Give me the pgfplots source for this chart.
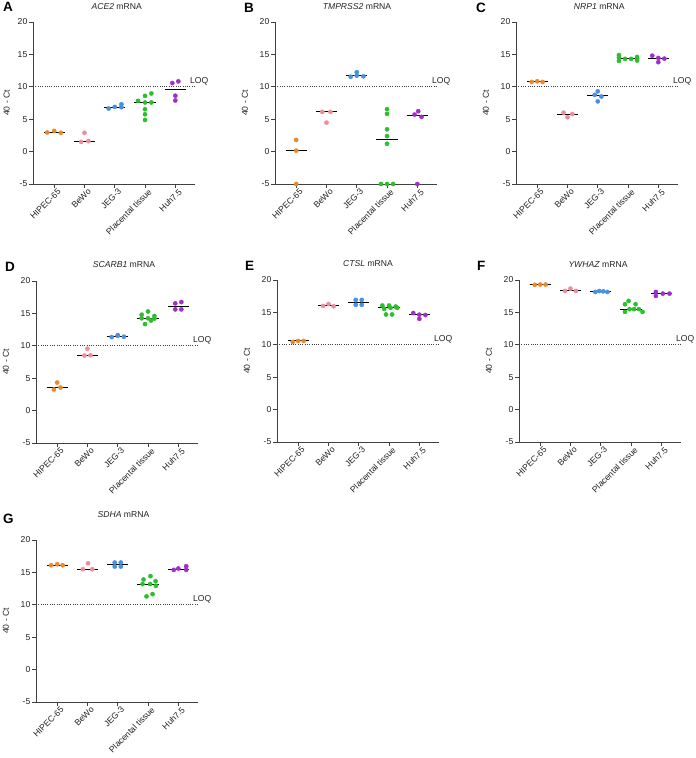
\documentclass[border=0pt]{standalone}
\usepackage{pgfplots}
\pgfplotsset{compat=1.18}
\usepackage{fontspec}
\setmainfont{Liberation Sans}

\definecolor{cHip}{HTML}{E8892B}
\definecolor{cBew}{HTML}{EC8E99}
\definecolor{cJeg}{HTML}{4A8FE0}
\definecolor{cPla}{HTML}{2DBE2D}
\definecolor{cHuh}{HTML}{9E30C9}
\definecolor{axgray}{HTML}{404040}
\definecolor{txt}{HTML}{222222}

\newcommand{\smallfont}{\fontsize{8.6}{10}\selectfont}
\newcommand{\letterfont}{\fontsize{13.5}{15}\selectfont\bfseries}

\pgfplotsset{
  qpcr/.style={
    scale only axis, width=162pt, height=162pt, anchor=south west,
    xmin=-0.7, xmax=4.65, ymin=-5, ymax=20,
    axis x line*=bottom, axis y line*=left,
    axis line style={axgray, line width=0.8pt},
    tick style={axgray, line width=0.8pt},
    tick align=outside, major tick length=4pt,
    xtick={0,1,2,3,4},
    xticklabels={HIPEC-65,BeWo,JEG-3,Placental tissue,Huh7.5},
    ytick={-5,0,5,10,15,20},
    yticklabels={-5,0,5,10,15,20},
    tick label style={font=\smallfont, text=txt},
    xticklabel style={rotate=45, anchor=north east, inner sep=0.5pt, xshift=2.5pt, yshift=-1.5pt},
    yticklabel style={inner sep=1.5pt},
    ylabel={40 - Ct},
    label style={font=\smallfont, text=txt},
    ylabel style={at={(axis description cs:-0.185,0.5)}, anchor=center},
    clip=false,
  },
  dots/.style={only marks, mark=*, mark size=2.1pt, color=#1},
  median/.style={black, line width=1pt},
  loq/.style={axgray, line width=0.7pt, dash pattern=on 0.7pt off 1.6pt},
}

% limit of quantification: dotted line at 10 with its label
\newcommand{\loq}{%
  \addplot[loq] coordinates {(-0.7,10) (4.65,10)};
  \node[font=\smallfont, text=txt, anchor=base west, inner sep=0pt, xshift=-5pt, yshift=3.5pt] at (axis cs:4.65,10) {LOQ};
}
% median bar: x from, x to, value
\newcommand{\med}[3]{\addplot[median] coordinates {(#1,#3) (#2,#3)};}

\begin{document}
\begin{tikzpicture}
\useasboundingbox (0pt,0pt) rectangle (696pt,758pt);

% ---------------- A: ACE2 ----------------
\begin{axis}[qpcr, at={(33pt,574pt)}, ylabel style={at={(axis description cs:-0.162,0.5)}}]
\loq
\addplot[dots=cHip] coordinates {(-0.23,2.95) (0,3.2) (0.22,2.9)};
\addplot[dots=cBew] coordinates {(1,2.9) (0.89,1.5) (1.13,1.62)};
\addplot[dots=cJeg] coordinates {(1.8,6.65) (2,6.9) (2.22,7.3) (2.22,6.85)};
\addplot[dots=cPla] coordinates {(2.77,7.83) (3,8.6) (3.21,8.97) (3,7.58) (3.21,7.58) (3,6.54) (3,5.76) (3,4.88)};
\addplot[dots=cHuh] coordinates {(3.9,10.58) (4.1,10.84) (4,8.62) (4,7.89)};
\med{-0.35}{0.35}{2.95}
\med{0.65}{1.35}{1.62}
\med{1.65}{2.35}{6.875}
\med{2.65}{3.35}{7.58}
\med{3.65}{4.35}{9.6}
\end{axis}

% ---------------- B: TMPRSS2 ----------------
\begin{axis}[qpcr, at={(275pt,574pt)}]
\loq
\addplot[dots=cHip] coordinates {(0,1.8) (0,0.15) (0,-5)};
\addplot[dots=cBew] coordinates {(0.86,6.13) (1.13,6.13) (1,4.47)};
\addplot[dots=cJeg] coordinates {(1.8,11.56) (2,12.25) (2,11.72) (2.22,11.62)};
\addplot[dots=cPla] coordinates {(3,6.54) (3,5.82) (3,3.44) (3,2.4) (3,1.21) (2.8,-5) (3,-5) (3.2,-5)};
\addplot[dots=cHuh] coordinates {(3.91,5.71) (4.03,6.23) (4.14,5.35) (4,-5)};
\med{-0.35}{0.35}{0.15}
\med{0.65}{1.35}{6.13}
\med{1.65}{2.35}{11.67}
\med{2.65}{3.35}{1.8}
\med{3.65}{4.35}{5.53}
\end{axis}

% ---------------- C: NRP1 ----------------
\begin{axis}[qpcr, at={(516pt,574pt)}]
\loq
\addplot[dots=cHip] coordinates {(-0.18,10.75) (0,10.85) (0.18,10.75)};
\addplot[dots=cBew] coordinates {(0.87,6.0) (1,5.3) (1.16,5.8)};
\addplot[dots=cJeg] coordinates {(2,9.3) (1.9,8.75) (2.12,8.5) (2,7.75)};
\addplot[dots=cPla] coordinates {(2.7,14.9) (2.7,14.55) (2.7,14.0) (2.9,14.3) (3.1,14.3) (3.3,14.6) (3.3,14.05) (3.3,14.35)};
\addplot[dots=cHuh] coordinates {(3.8,14.8) (4,14.45) (4.2,14.35) (4,13.8)};
\med{-0.35}{0.35}{10.75}
\med{0.65}{1.35}{5.8}
\med{1.65}{2.35}{8.625}
\med{2.65}{3.35}{14.325}
\med{3.65}{4.35}{14.4}
\end{axis}

% ---------------- D: SCARB1 ----------------
\begin{axis}[qpcr, at={(36pt,315pt)}]
\loq
\addplot[dots=cHip] coordinates {(0,4.33) (-0.11,3.25) (0.11,3.56)};
\addplot[dots=cBew] coordinates {(1,9.55) (0.9,8.5) (1.1,8.55)};
\addplot[dots=cJeg] coordinates {(1.8,11.35) (2,11.65) (2.2,11.4) (2,11.55)};
\addplot[dots=cPla] coordinates {(3,15.3) (2.79,14.8) (3.21,14.6) (2.79,14.25) (3,14.25) (3.21,14.2) (2.9,13.35) (3.1,13.9)};
\addplot[dots=cHuh] coordinates {(3.9,16.55) (4.1,16.75) (3.9,15.62) (4.1,15.62)};
\med{-0.35}{0.35}{3.56}
\med{0.65}{1.35}{8.55}
\med{1.65}{2.35}{11.475}
\med{2.65}{3.35}{14.25}
\med{3.65}{4.35}{16.085}
\end{axis}

% ---------------- E: CTSL ----------------
\begin{axis}[qpcr, at={(277pt,316pt)}]
\loq
\addplot[dots=cHip] coordinates {(-0.18,10.45) (0,10.6) (0.18,10.6)};
\addplot[dots=cBew] coordinates {(0.82,16.0) (1,16.3) (1.17,15.95)};
\addplot[dots=cJeg] coordinates {(1.9,16.93) (2.1,16.93) (1.9,16.17) (2.1,16.17)};
\addplot[dots=cPla] coordinates {(2.78,16.06) (3,16.06) (3.22,15.9) (2.84,15.55) (3.05,15.7) (3.27,15.7) (2.9,14.68) (3.1,14.68)};
\addplot[dots=cHuh] coordinates {(3.8,14.9) (4,14.65) (4.2,14.6) (4,14.0)};
\med{-0.35}{0.35}{10.6}
\med{0.65}{1.35}{16.0}
\med{1.65}{2.35}{16.55}
\med{2.65}{3.35}{15.7}
\med{3.65}{4.35}{14.625}
\end{axis}

% ---------------- F: YWHAZ ----------------
\begin{axis}[qpcr, at={(519pt,316pt)}]
\loq
\addplot[dots=cHip] coordinates {(-0.18,19.25) (0,19.3) (0.18,19.3)};
\addplot[dots=cBew] coordinates {(0.82,18.31) (1,18.67) (1.18,18.31)};
\addplot[dots=cJeg] coordinates {(1.82,18.15) (1.95,18.3) (2.08,18.25) (2.22,18.15)};
\addplot[dots=cPla] coordinates {(2.92,16.77) (2.8,16.26) (3.15,16.26) (2.8,15.08) (3.38,15.08) (2.95,15.5) (3.1,15.5) (3.26,15.5)};
\addplot[dots=cHuh] coordinates {(3.82,18.16) (3.82,17.54) (4.05,17.9) (4.27,17.9)};
\med{-0.35}{0.35}{19.3}
\med{0.65}{1.35}{18.31}
\med{1.65}{2.35}{18.2}
\med{2.65}{3.35}{15.5}
\med{3.65}{4.35}{17.9}
\end{axis}

% ---------------- G: SDHA ----------------
\begin{axis}[qpcr, at={(36pt,56pt)}]
\loq
\addplot[dots=cHip] coordinates {(-0.2,16.1) (0,16.26) (0.18,16.1)};
\addplot[dots=cBew] coordinates {(1.02,16.41) (0.85,15.49) (1.16,15.49)};
\addplot[dots=cJeg] coordinates {(1.9,16.52) (2.1,16.52) (1.9,15.9) (2.1,15.9)};
\addplot[dots=cPla] coordinates {(3.08,14.42) (2.85,13.9) (3.25,13.65) (2.82,13.2) (3.07,13.2) (3.26,12.93) (2.95,11.3) (3.15,11.65)};
\addplot[dots=cHuh] coordinates {(3.85,15.39) (4,15.6) (4.26,15.95) (4.26,15.39)};
\med{-0.35}{0.35}{16.1}
\med{0.65}{1.35}{15.49}
\med{1.65}{2.35}{16.21}
\med{2.65}{3.35}{13.2}
\med{3.65}{4.35}{15.495}
\end{axis}

% panel titles
\begin{scope}[every node/.style={font=\smallfont, text=txt, anchor=center, inner sep=0pt}]
\node at (116.7pt,751.3pt) {\textit{ACE2} mRNA};
\node at (357pt,751.3pt) {\textit{TMPRSS2} mRNA};
\node at (599.3pt,751.3pt) {\textit{NRP1} mRNA};
\node at (124pt,493pt) {\textit{SCARB1} mRNA};
\node at (368pt,494pt) {\textit{CTSL} mRNA};
\node at (598pt,493pt) {\textit{YWHAZ} mRNA};
\node at (123.5pt,243pt) {\textit{SDHA} mRNA};
\end{scope}

% panel letters
\begin{scope}[every node/.style={font=\letterfont, text=black, anchor=north west, inner sep=0pt}]
\node at (3pt,756pt) {A};
\node at (244pt,755pt) {B};
\node at (476pt,755pt) {C};
\node at (5pt,496pt) {D};
\node at (245pt,497pt) {E};
\node at (477pt,497pt) {F};
\node at (3pt,244pt) {G};
\end{scope}
\end{tikzpicture}
\end{document}
